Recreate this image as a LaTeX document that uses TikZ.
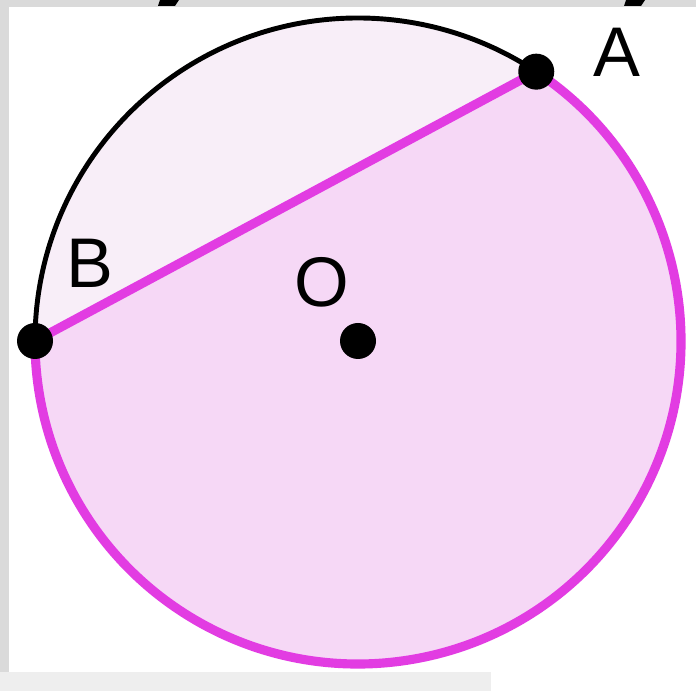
\documentclass[tikz,border=0pt]{standalone}
\usepackage{fontspec}
\setmainfont{Liberation Sans}
\definecolor{ChordMagenta}{RGB}{226,60,226}
\definecolor{MajorPink}{RGB}{246,216,246}
\definecolor{MinorPink}{RGB}{248,238,248}
\definecolor{FrameGray}{RGB}{218,218,218}
\definecolor{BarGray}{RGB}{238,238,238}
\usetikzlibrary{positioning, calc}

\begin{document}
\begin{tikzpicture}[
	dot/.style={circle,fill=black,inner sep=0pt,minimum size=0.36cm},
	ptlabel/.style={font=\fontsize{20}{24}\selectfont,inner sep=0pt}]
\useasboundingbox (0,0) rectangle (6.96,-6.91);
% background and frame
\fill[white] (0,0) rectangle (6.96,-6.91);
\fill[FrameGray] (0,0) rectangle (6.96,-0.07);
\fill[FrameGray] (0,0) rectangle (0.09,-6.72);
\fill[BarGray] (0,-6.72) rectangle (4.91,-6.91);
\fill[black] (1.60,0) -- (1.79,0) -- (1.75,-0.06) -- (1.58,-0.06) -- cycle;
\fill[black] (6.26,0) -- (6.45,0) -- (6.41,-0.06) -- (6.24,-0.06) -- cycle;
% circle, chord and segments
\coordinate (O) at (3.58,-3.41);
\coordinate (A) at ($(O)+(56.5:3.23)$);
\coordinate (B) at ($(O)+(180:3.23)$);
\fill[MajorPink] (A) arc[start angle=56.5,end angle=-180,radius=3.23] -- cycle;
\fill[MinorPink] (B) arc[start angle=180,end angle=56.5,radius=3.23] -- cycle;
\draw[black,line width=1.4pt] (B) arc[start angle=180,end angle=56.5,radius=3.23];
\draw[ChordMagenta,line width=2.6pt] (A) arc[start angle=56.5,end angle=-180,radius=3.23];
\draw[ChordMagenta,line width=2.6pt] (B) -- (A);
% points
\node[dot] (dA) at (A) {};
\node[dot] (dB) at (B) {};
\node[dot] (dO) at (O) {};
\node[ptlabel] (lA) at (6.17,-0.52) {A};
\node[ptlabel] (lB) at (0.90,-2.63) {B};
\node[ptlabel] (lO) at (3.22,-2.82) {O};
\end{tikzpicture}
\end{document}
